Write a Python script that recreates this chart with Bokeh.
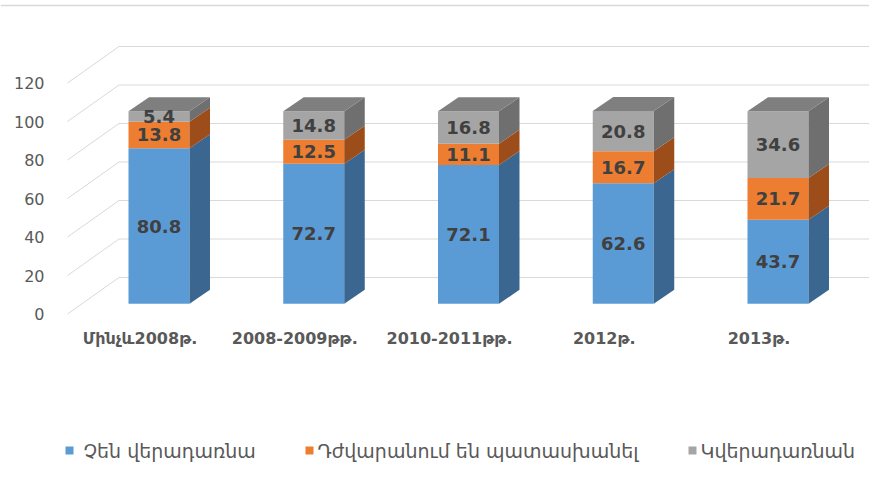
from bokeh.plotting import figure
from bokeh.models import Range1d, Span
from bokeh.core.properties import value
from bokeh.embed import file_html
from bokeh.resources import INLINE

# ---------------- data ----------------
categories = ["Մինչև2008թ.", "2008-2009թթ.", "2010-2011թթ.", "2012թ.", "2013թ."]
not_return = [80.8, 72.7, 72.1, 62.6, 43.7]
hard_to_answer = [13.8, 12.5, 11.1, 16.7, 21.7]
will_return = [5.4, 14.8, 16.8, 20.8, 34.6]
series_names = ["Չեն վերադառնա", "Դժվարանում են պատասխանել", "Կվերադառնան"]
y_ticks = [0, 20, 40, 60, 80, 100, 120]

# ---------------- style / geometry ----------------
W, H = 869, 464
PX_X = 154.75          # px per category step
PX_Y = 1.925           # px per value unit
X0_PX = 158.5          # canvas x of first bar centre
Y0_PX = 303.3          # canvas y of value 0 on bar front plane

def ux(px):
    return px / PX_X

def uy(px):
    return px / PX_Y

HALF_W = ux(30.5)
SIDE_DX, SIDE_DY = ux(20.5), uy(14.0)
FRONT_DX, FRONT_DY = ux(-14.5), uy(-10.2)   # axis front plane offset vs bar front
LEFT_FRONT_X = ux(67 - X0_PX)
LEFT_BACK_X = ux(118.5 - X0_PX)
BACK_DY = uy(26.3)

front_cols = ["#5B9BD5", "#ED7D31", "#A5A5A5"]
side_cols = ["#3B6690", "#9C4D19", "#6F6F6F"]
top_col = "#7F7F7F"
grid_col = "#D9D9D9"
label_col = "#404040"
axis_txt = "#595959"

p = figure(width=W, height=H, output_backend="svg", toolbar_location=None,
           x_range=Range1d(-X0_PX / PX_X, (W - X0_PX) / PX_X),
           y_range=Range1d(-(H - Y0_PX) / PX_Y, Y0_PX / PX_Y),
           x_axis_location=None, y_axis_location=None, min_border=0,
           background_fill_color="white", border_fill_color="white")
p.outline_line_color = None
p.xgrid.visible = False
p.ygrid.visible = False

# top border line of chart area
p.add_layout(Span(location=uy(Y0_PX - 5), dimension="width",
                  line_color=grid_col, line_width=1.5))

# gridlines: left wall diagonals + back wall horizontals
right_end = (W - X0_PX) / PX_X
for v in y_ticks:
    p.line([LEFT_FRONT_X, LEFT_BACK_X], [v + FRONT_DY, v + BACK_DY],
           line_color=grid_col, line_width=1)
    p.line([LEFT_BACK_X, right_end], [v + BACK_DY, v + BACK_DY],
           line_color=grid_col, line_width=1)

# y tick labels on front plane
p.text(x=[ux(44 - X0_PX)] * len(y_ticks), y=[v + FRONT_DY for v in y_ticks],
       text=[str(v) for v in y_ticks], text_align="right", text_baseline="middle",
       text_font=value("DejaVu Sans"), text_font_size="16px", text_color=axis_txt)

# bars
series = [not_return, hard_to_answer, will_return]
lab_x, lab_y, lab_t = [], [], []
for i in range(len(categories)):
    base = 0.0
    for s, vals in enumerate(series):
        b, t = base, base + vals[i]
        # front face
        p.quad(left=[i - HALF_W], right=[i + HALF_W], bottom=[b], top=[t],
               fill_color=front_cols[s], line_color=None)
        # side face
        p.patch([i + HALF_W, i + HALF_W + SIDE_DX, i + HALF_W + SIDE_DX, i + HALF_W],
                [b, b + SIDE_DY, t + SIDE_DY, t],
                fill_color=side_cols[s], line_color=None)
        lab_x.append(i)
        lab_y.append((b + t) / 2)
        lab_t.append(f"{vals[i]:.1f}")
        base = t
    # top face
    p.patch([i - HALF_W, i - HALF_W + SIDE_DX, i + HALF_W + SIDE_DX, i + HALF_W],
            [base, base + SIDE_DY, base + SIDE_DY, base],
            fill_color=top_col, line_color=None)

p.text(x=lab_x, y=lab_y, text=lab_t, text_align="center", text_baseline="middle",
       text_font=value("DejaVu Sans"), text_font_size="18px", text_font_style="bold",
       text_color=label_col)

# category labels
p.text(x=[i + FRONT_DX - ux(4.5) for i in range(len(categories))],
       y=[uy(Y0_PX - 338)] * len(categories), text=categories,
       text_align="center", text_baseline="middle",
       text_font=value("DejaVu Sans"), text_font_size="16px", text_font_style="bold",
       text_color=axis_txt)

# legend (manual)
leg_sq_x = [ux(65 - X0_PX), ux(305 - X0_PX), ux(688 - X0_PX)]
leg_tx_x = [ux(83 - X0_PX), ux(317 - X0_PX), ux(700 - X0_PX)]
leg_y = uy(Y0_PX - 450)
for k in range(3):
    p.quad(left=[leg_sq_x[k]], right=[leg_sq_x[k] + ux(8)],
           bottom=[leg_y - uy(4)], top=[leg_y + uy(4)],
           fill_color=front_cols[k], line_color=None)
p.text(x=leg_tx_x, y=[leg_y] * 3, text=series_names, text_align="left",
       text_baseline="middle", text_font=value("DejaVu Sans"),
       text_font_size="19px", text_color=axis_txt)

open("out.html", "w").write(file_html(p, INLINE))
